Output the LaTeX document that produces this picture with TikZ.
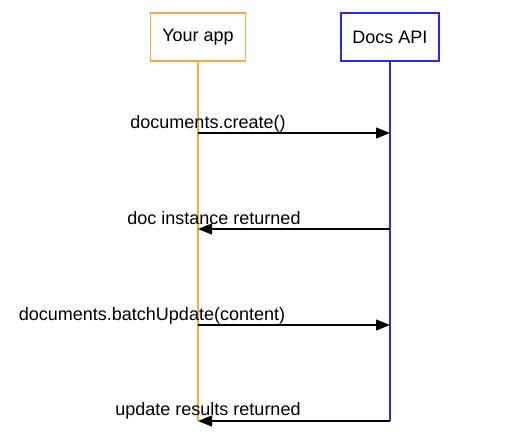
\documentclass[tikz,border=0pt]{standalone}
\usepackage{fontspec}
\setmainfont{Liberation Sans}
\usetikzlibrary{arrows.meta}
\definecolor{apporange}{RGB}{255,168,60}
\definecolor{apiblue}{RGB}{40,40,240}
\begin{document}
\begin{tikzpicture}[x=1pt,y=-1pt,
  every node/.style={font=\fontsize{18}{22}\selectfont, inner sep=0pt},
  actor/.style={draw, line width=1.2pt, minimum width=#1, minimum height=48pt},
  life/.style={line width=1.1pt},
  msg/.style={line width=1.1pt, -{Triangle[length=14pt,width=11pt]}},
  lbl/.style={anchor=base}]
\useasboundingbox (0,0) rectangle (531,440);
\node[actor=95pt, draw=apporange] (app) at (198,37) {Your app};
\node[actor=98pt, draw=apiblue] (api) at (390,37) {Docs API};
\coordinate (append) at (198,421);
\coordinate (apiend) at (390,421);
\draw[life, apporange] (app.south) -- (append);
\draw[life, apiblue] (api.south) -- (apiend);
\coordinate (a1) at (198,133); \coordinate (b1) at (390,133);
\coordinate (a2) at (198,229); \coordinate (b2) at (390,229);
\coordinate (a3) at (198,325); \coordinate (b3) at (390,325);
\coordinate (a4) at (198,421); \coordinate (b4) at (390,421);
\draw[msg] (a1) -- (b1);
\draw[msg] (b2) -- (a2);
\draw[msg] (a3) -- (b3);
\draw[msg] (b4) -- (a4);
\node[lbl] (l1) at (208,128) {documents.create()};
\node[lbl] (l2) at (214,224) {doc instance returned};
\node[lbl] (l3) at (152,320) {documents.batchUpdate(content)};
\node[lbl] (l4) at (208,415) {update results returned};
\end{tikzpicture}
\end{document}
